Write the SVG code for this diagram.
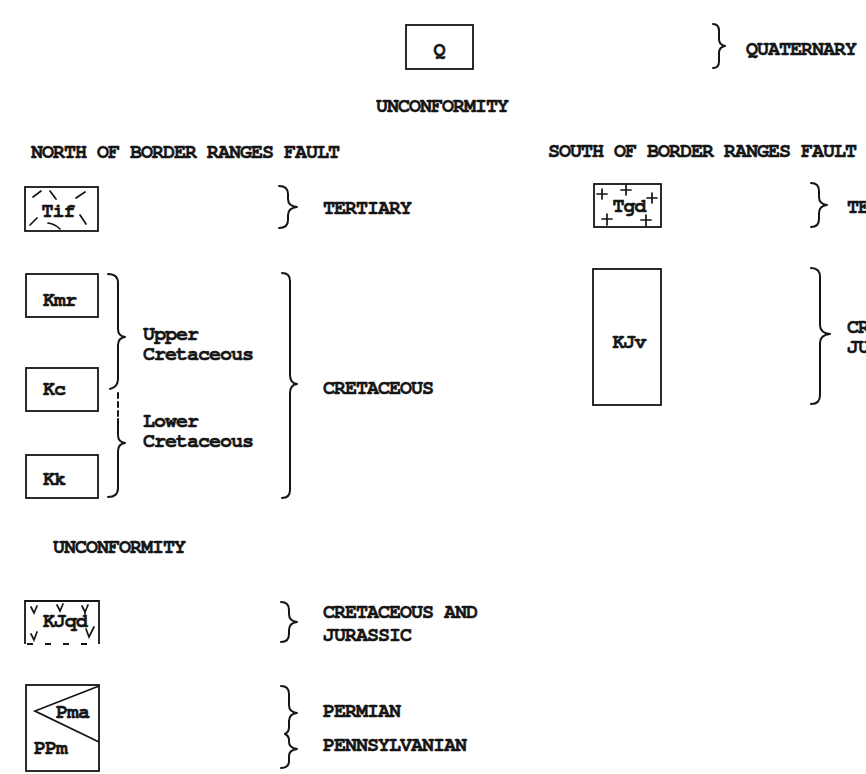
<svg xmlns="http://www.w3.org/2000/svg" width="866" height="774" viewBox="0 0 866 774">
<style>
.t{font-family:"Nimbus Mono PS","FreeMono","Liberation Mono","Courier New",monospace;font-size:20px;letter-spacing:-1px;font-weight:bold;fill:#151515;stroke:#151515;stroke-width:0.5px}
.box{fill:none;stroke:#151515;stroke-width:1.8}
.br{fill:none;stroke:#151515;stroke-width:2;stroke-linecap:round;stroke-linejoin:round}
.mk{fill:none;stroke:#151515;stroke-width:1.7;stroke-linecap:round}
</style>
<rect width="866" height="774" fill="#fff"/>

<g id="headings">
<text class="t" x="442" y="112" text-anchor="middle">UNCONFORMITY</text>
<text class="t" x="31" y="158">NORTH OF BORDER RANGES FAULT</text>
<text class="t" x="548" y="157">SOUTH OF BORDER RANGES FAULT</text>
<text class="t" x="53" y="553">UNCONFORMITY</text>
</g>

<g id="node-Q">
<rect class="box" x="406" y="25" width="67" height="44"/>
<text class="t" x="439" y="56" text-anchor="middle">Q</text>
</g>

<g id="node-Tif">
<rect class="box" x="25" y="187" width="73" height="44"/>
<text class="t" x="58" y="217" text-anchor="middle">Tif</text>
<path class="mk" d="M33,197 L41,191 M50,191 L56,199 M76,198 L85,192 M30,225 L37,218 M48,223 Q55,224 60,229 M80,215 L86,224"/>
</g>

<g id="node-Kmr">
<rect class="box" x="26" y="274" width="72" height="43"/>
<text class="t" x="43" y="306">Kmr</text>
</g>

<g id="node-Kc">
<rect class="box" x="26" y="368" width="72" height="43"/>
<text class="t" x="43" y="395">Kc</text>
</g>

<g id="node-Kk">
<rect class="box" x="26" y="455" width="72" height="43"/>
<text class="t" x="43" y="485">Kk</text>
</g>

<g id="node-KJqd">
<path class="box" d="M25,644 L25,601 L99,601 L99,644"/>
<path class="box" d="M27,644 L99,644" stroke-dasharray="6,12"/>
<text class="t" x="43" y="627">KJqd</text>
<path class="mk" d="M31,607 L34,613 L37,606 M57,605 L60,611 L63,604 M82,606 L85,612 L88,605 M85,612 L85,614 M31,634 L34,640 L37,632 M86,629 L89,637 L94,627"/>
</g>

<g id="node-PPm">
<rect class="box" x="26" y="685" width="73" height="86"/>
<path class="box" d="M99,686 L35,711 L99,742"/>
<text class="t" x="56" y="718">Pma</text>
<text class="t" x="34" y="754">PPm</text>
</g>

<g id="node-Tgd">
<rect class="box" x="594" y="184" width="67" height="43"/>
<text class="t" x="629" y="212" text-anchor="middle">Tgd</text>
<path class="mk" d="M597,194 L607,194 M602,189 L602,199 M621,190 L631,190 M626,185 L626,195 M647,198 L657,198 M652,193 L652,203 M602,219 L612,219 M607,214 L607,225 M641,220 L651,220 M646,215 L646,226"/>
</g>

<g id="node-KJv">
<rect class="box" x="593" y="269" width="68" height="136"/>
<text class="t" x="629" y="348" text-anchor="middle">KJv</text>
</g>

<g id="labels">
<text class="t" x="746" y="55">QUATERNARY</text>
<text class="t" x="323" y="214">TERTIARY</text>
<text class="t" x="847" y="213">TE</text>
<text class="t" x="143" y="340">Upper</text>
<text class="t" x="143" y="360">Cretaceous</text>
<text class="t" x="143" y="427">Lower</text>
<text class="t" x="143" y="447">Cretaceous</text>
<text class="t" x="323" y="394">CRETACEOUS</text>
<text class="t" x="847" y="333">CR</text>
<text class="t" x="847" y="353">JU</text>
<text class="t" x="323" y="618">CRETACEOUS AND</text>
<text class="t" x="323" y="641">JURASSIC</text>
<text class="t" x="323" y="717">PERMIAN</text>
<text class="t" x="323" y="751">PENNSYLVANIAN</text>
</g>

<g id="connectors">
<path class="br" d="M713,24 Q719,24 719,31 L719,39 Q719,45 725,46 Q719,47 719,53 L719,61 Q719,68 713,68"/>
<path class="br" d="M279,186 Q288,186 288,194 L288,199 Q288,206 297,207 Q288,208 288,215 L288,220 Q288,228 279,228"/>
<path class="br" d="M811,183 Q819,183 819,191 L819,197 Q819,204 827,205 Q819,206 819,213 L819,219 Q819,227 811,227"/>
<path class="br" d="M108,274 Q118,274 118,283 L118,329 Q118,336 125,337 Q118,338 118,345 L118,379 Q118,387 110,389"/>
<path class="br" d="M118,393 L118,416" stroke-dasharray="5,4"/>
<path class="br" d="M118,419 L118,435 Q118,442 125,443 Q118,444 118,451 L118,488 Q118,497 108,497"/>
<path class="br" d="M282,273 Q290,273 290,281 L290,375 Q290,383 297,384 Q290,385 290,393 L290,490 Q290,498 282,498"/>
<path class="br" d="M811,268 Q820,268 820,277 L820,325 Q820,333 830,334 Q820,335 820,343 L820,395 Q820,404 811,404"/>
<path class="br" d="M281,602 Q289,602 289,610 L289,614 Q289,621 297,622 Q289,623 289,630 L289,634 Q289,642 281,642"/>
<path class="br" d="M281,686 Q289,686 289,694 L289,705 Q289,712 297,713 Q289,714 289,721 L289,727 Q289,732 285,734 Q289,736 289,740 L289,742 Q289,748 297,749 Q289,750 289,756 L289,761 Q289,768 281,768"/>
</g>
</svg>
